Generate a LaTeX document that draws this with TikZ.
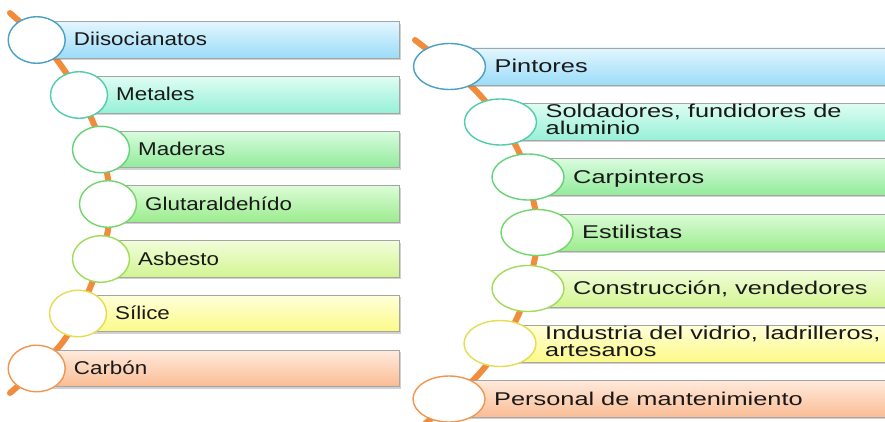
\documentclass[tikz,border=0pt]{standalone}
\usepackage{fontspec}
\usepackage{graphicx}
\setmainfont{Liberation Sans}
\usetikzlibrary{shapes.geometric,shadows}

\definecolor{orangeline}{RGB}{240,140,60}
\definecolor{boxborder}{RGB}{165,165,165}
\definecolor{txt}{RGB}{25,25,25}
\definecolor{blueT}{RGB}{226,246,254}\definecolor{blueB}{RGB}{155,220,248}\definecolor{blueC}{RGB}{75,160,195}
\definecolor{tealT}{RGB}{222,253,242}\definecolor{tealB}{RGB}{150,240,215}\definecolor{tealC}{RGB}{80,205,170}
\definecolor{grnT}{RGB}{218,252,222}\definecolor{grnB}{RGB}{145,235,155}\definecolor{grnC}{RGB}{100,210,120}
\definecolor{gr2T}{RGB}{220,252,215}\definecolor{gr2B}{RGB}{155,236,142}\definecolor{gr2C}{RGB}{115,215,105}
\definecolor{ygT}{RGB}{242,253,218}\definecolor{ygB}{RGB}{210,245,145}\definecolor{ygC}{RGB}{160,220,90}
\definecolor{yelT}{RGB}{255,255,218}\definecolor{yelB}{RGB}{252,250,135}\definecolor{yelC}{RGB}{230,220,80}
\definecolor{orT}{RGB}{255,234,220}\definecolor{orB}{RGB}{250,188,148}\definecolor{orC}{RGB}{240,150,80}

\newcommand\lsx[1]{\scalebox{1.21}[1]{#1}}
\newcommand\rsx[1]{\scalebox{1.37}[1]{#1}}
\newcommand\twoline[2]{\vbox{\baselineskip=17pt\lineskiplimit=-100pt\hbox{#1}\hbox{#2}}}

\tikzset{
  arcline/.style={draw=orangeline, line width=6pt, line cap=round},
  rbox/.style={draw=boxborder, line width=0.8pt, anchor=west, inner sep=0pt,
    drop shadow={shadow xshift=1.2pt, shadow yshift=-1.8pt, opacity=0.3, fill=black!60}},
  bub/.style={ellipse, line width=1.4pt, fill=white, inner sep=0pt},
  lbub/.style={bub, minimum width=57pt, minimum height=46.5pt},
  rbub/.style={bub, minimum width=72pt, minimum height=46pt},
  lbl/.style={anchor=base west, inner sep=0pt, font=\fontsize{18.5}{17}\selectfont, text=txt},
}

\begin{document}
\begin{tikzpicture}[x=1pt,y=-1pt]
\useasboundingbox (0,0) rectangle (885,422);
\clip (0,0) rectangle (885,422);

% curved spines
\draw[arcline] plot[smooth, tension=0.6] coordinates
  {(10,13) (57,60) (93,122) (107,173) (109,204) (107,235) (90,288) (62,343) (10,393)};
\draw[arcline] plot[smooth, tension=0.6] coordinates
  {(415,40) (478,93) (518,150) (535,208) (537,232) (535,258) (517,318) (479,374) (420,428)};

% left list
\foreach \i/\cx/\cy/\tc/\bc/\cc/\lab in {
  1/36.7/40/blueT/blueB/blueC/{Diisocianatos},
  2/79/95/tealT/tealB/tealC/{Metales},
  3/101/149.5/grnT/grnB/grnC/{Maderas},
  4/108/204/gr2T/gr2B/gr2C/{Glutaraldehído},
  5/101/259/ygT/ygB/ygC/{Asbesto},
  6/78/313.5/yelT/yelB/yelC/{Sílice},
  7/36.7/368.5/orT/orB/orC/{Carbón}} {
  \node[rbox, top color=\tc, bottom color=\bc, minimum height=36.5pt,
        minimum width={(399-\cx)*1pt}] (Lr\i) at (\cx,\cy) {};
  \node[lbub, draw=\cc] (Lc\i) at (\cx,\cy) {};
  \node[lbl] (Lt\i) at (\cx+37,\cy+6) {\lsx{\lab}};
}

% right list
\foreach \i/\cx/\cy/\dy/\tc/\bc/\cc/\lab in {
  1/449.5/66.5/6/blueT/blueB/blueC/{Pintores},
  2/500.5/122/13/tealT/tealB/tealC/{\twoline{Soldadores, fundidores de}{aluminio}},
  3/528/177/6/grnT/grnB/grnC/{Carpinteros},
  4/537/232.5/6/gr2T/gr2B/gr2C/{Estilistas},
  5/528/288.5/6/ygT/ygB/ygC/{Construcción, vendedores},
  6/500/343.5/13/yelT/yelB/yelC/{\twoline{Industria del vidrio, ladrilleros,}{artesanos}},
  7/449/399/6/orT/orB/orC/{Personal de mantenimiento}} {
  \node[rbox, top color=\tc, bottom color=\bc, minimum height=37pt,
        minimum width={(900-\cx)*1pt}] (Rr\i) at (\cx,\cy) {};
  \node[rbub, draw=\cc] (Rc\i) at (\cx,\cy) {};
  \node[lbl] (Rt\i) at (\cx+45,\cy+\dy) {\rsx{\lab}};
}
\end{tikzpicture}
\end{document}
